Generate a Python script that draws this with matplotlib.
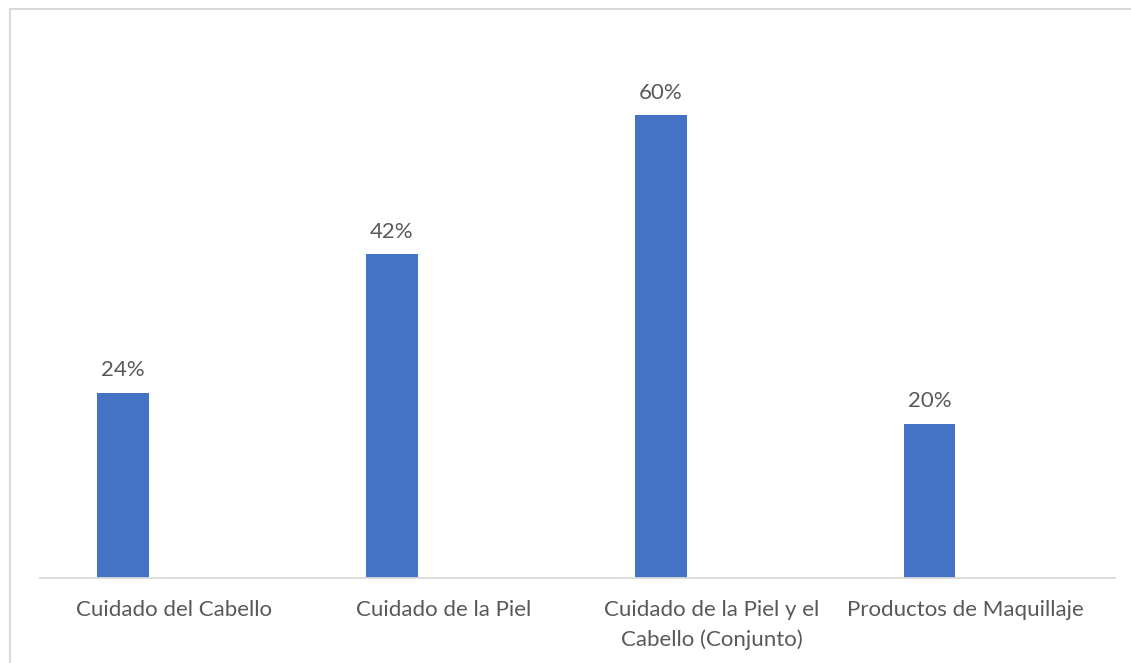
import matplotlib
matplotlib.use('Agg')
import matplotlib.pyplot as plt
import matplotlib.transforms as mtransforms
from matplotlib.patches import Rectangle

categorias = ['Cuidado del Cabello', 'Cuidado de la Piel',
              'Cuidado de la Piel y el\nCabello (Conjunto)', 'Productos de Maquillaje']
valores = [24, 42, 60, 20]
etiquetas = ['24%', '42%', '60%', '20%']

azul = '#4472C4'
gris_texto = '#595959'
gris_linea = '#D9D9D9'

plt.rcParams['font.family'] = ['Lato', 'DejaVu Sans']

fig = plt.figure(figsize=(11.31, 6.63), dpi=100)
fig.patch.set_facecolor('white')

# chart frame (only top and left edges are visible in the image)
fig.patches.append(Rectangle((10/1131, -0.1), 1.2, 1 - 9/663 + 0.1,
                             transform=fig.transFigure, fill=False,
                             edgecolor=gris_linea, linewidth=1.5, zorder=0))

ax = fig.add_axes([40/1131, 85/663, 1075/1131, 540/663])

x = list(range(len(categorias)))
ancho = 0.193
pos = [i - 0.19 for i in x]
ax.bar(pos, valores, width=ancho, color=azul, zorder=2)

for p, v, t in zip(pos, valores, etiquetas):
    ax.annotate(t, (p, v), xytext=(0, 9), textcoords='offset points',
                ha='center', va='bottom', fontsize=16, color=gris_texto)

ax.set_xlim(-0.5, 3.5)
ax.set_ylim(0, 70)
ax.set_xticks(x)
ax.set_xticklabels(categorias, fontsize=16, color=gris_texto, linespacing=1.55)
ax.tick_params(axis='x', length=0, pad=16)
ax.set_yticks([])

# last label sits a bit to the left, as in the original
lbl = ax.get_xticklabels()[-1]
lbl.set_transform(lbl.get_transform() + mtransforms.ScaledTranslation(-0.15, 0, fig.dpi_scale_trans))

for s in ['top', 'right', 'left']:
    ax.spines[s].set_visible(False)
ax.spines['bottom'].set_color(gris_linea)
ax.spines['bottom'].set_linewidth(1.3)
ax.patch.set_alpha(0)

fig.savefig('out.png', dpi=100, facecolor='white')
